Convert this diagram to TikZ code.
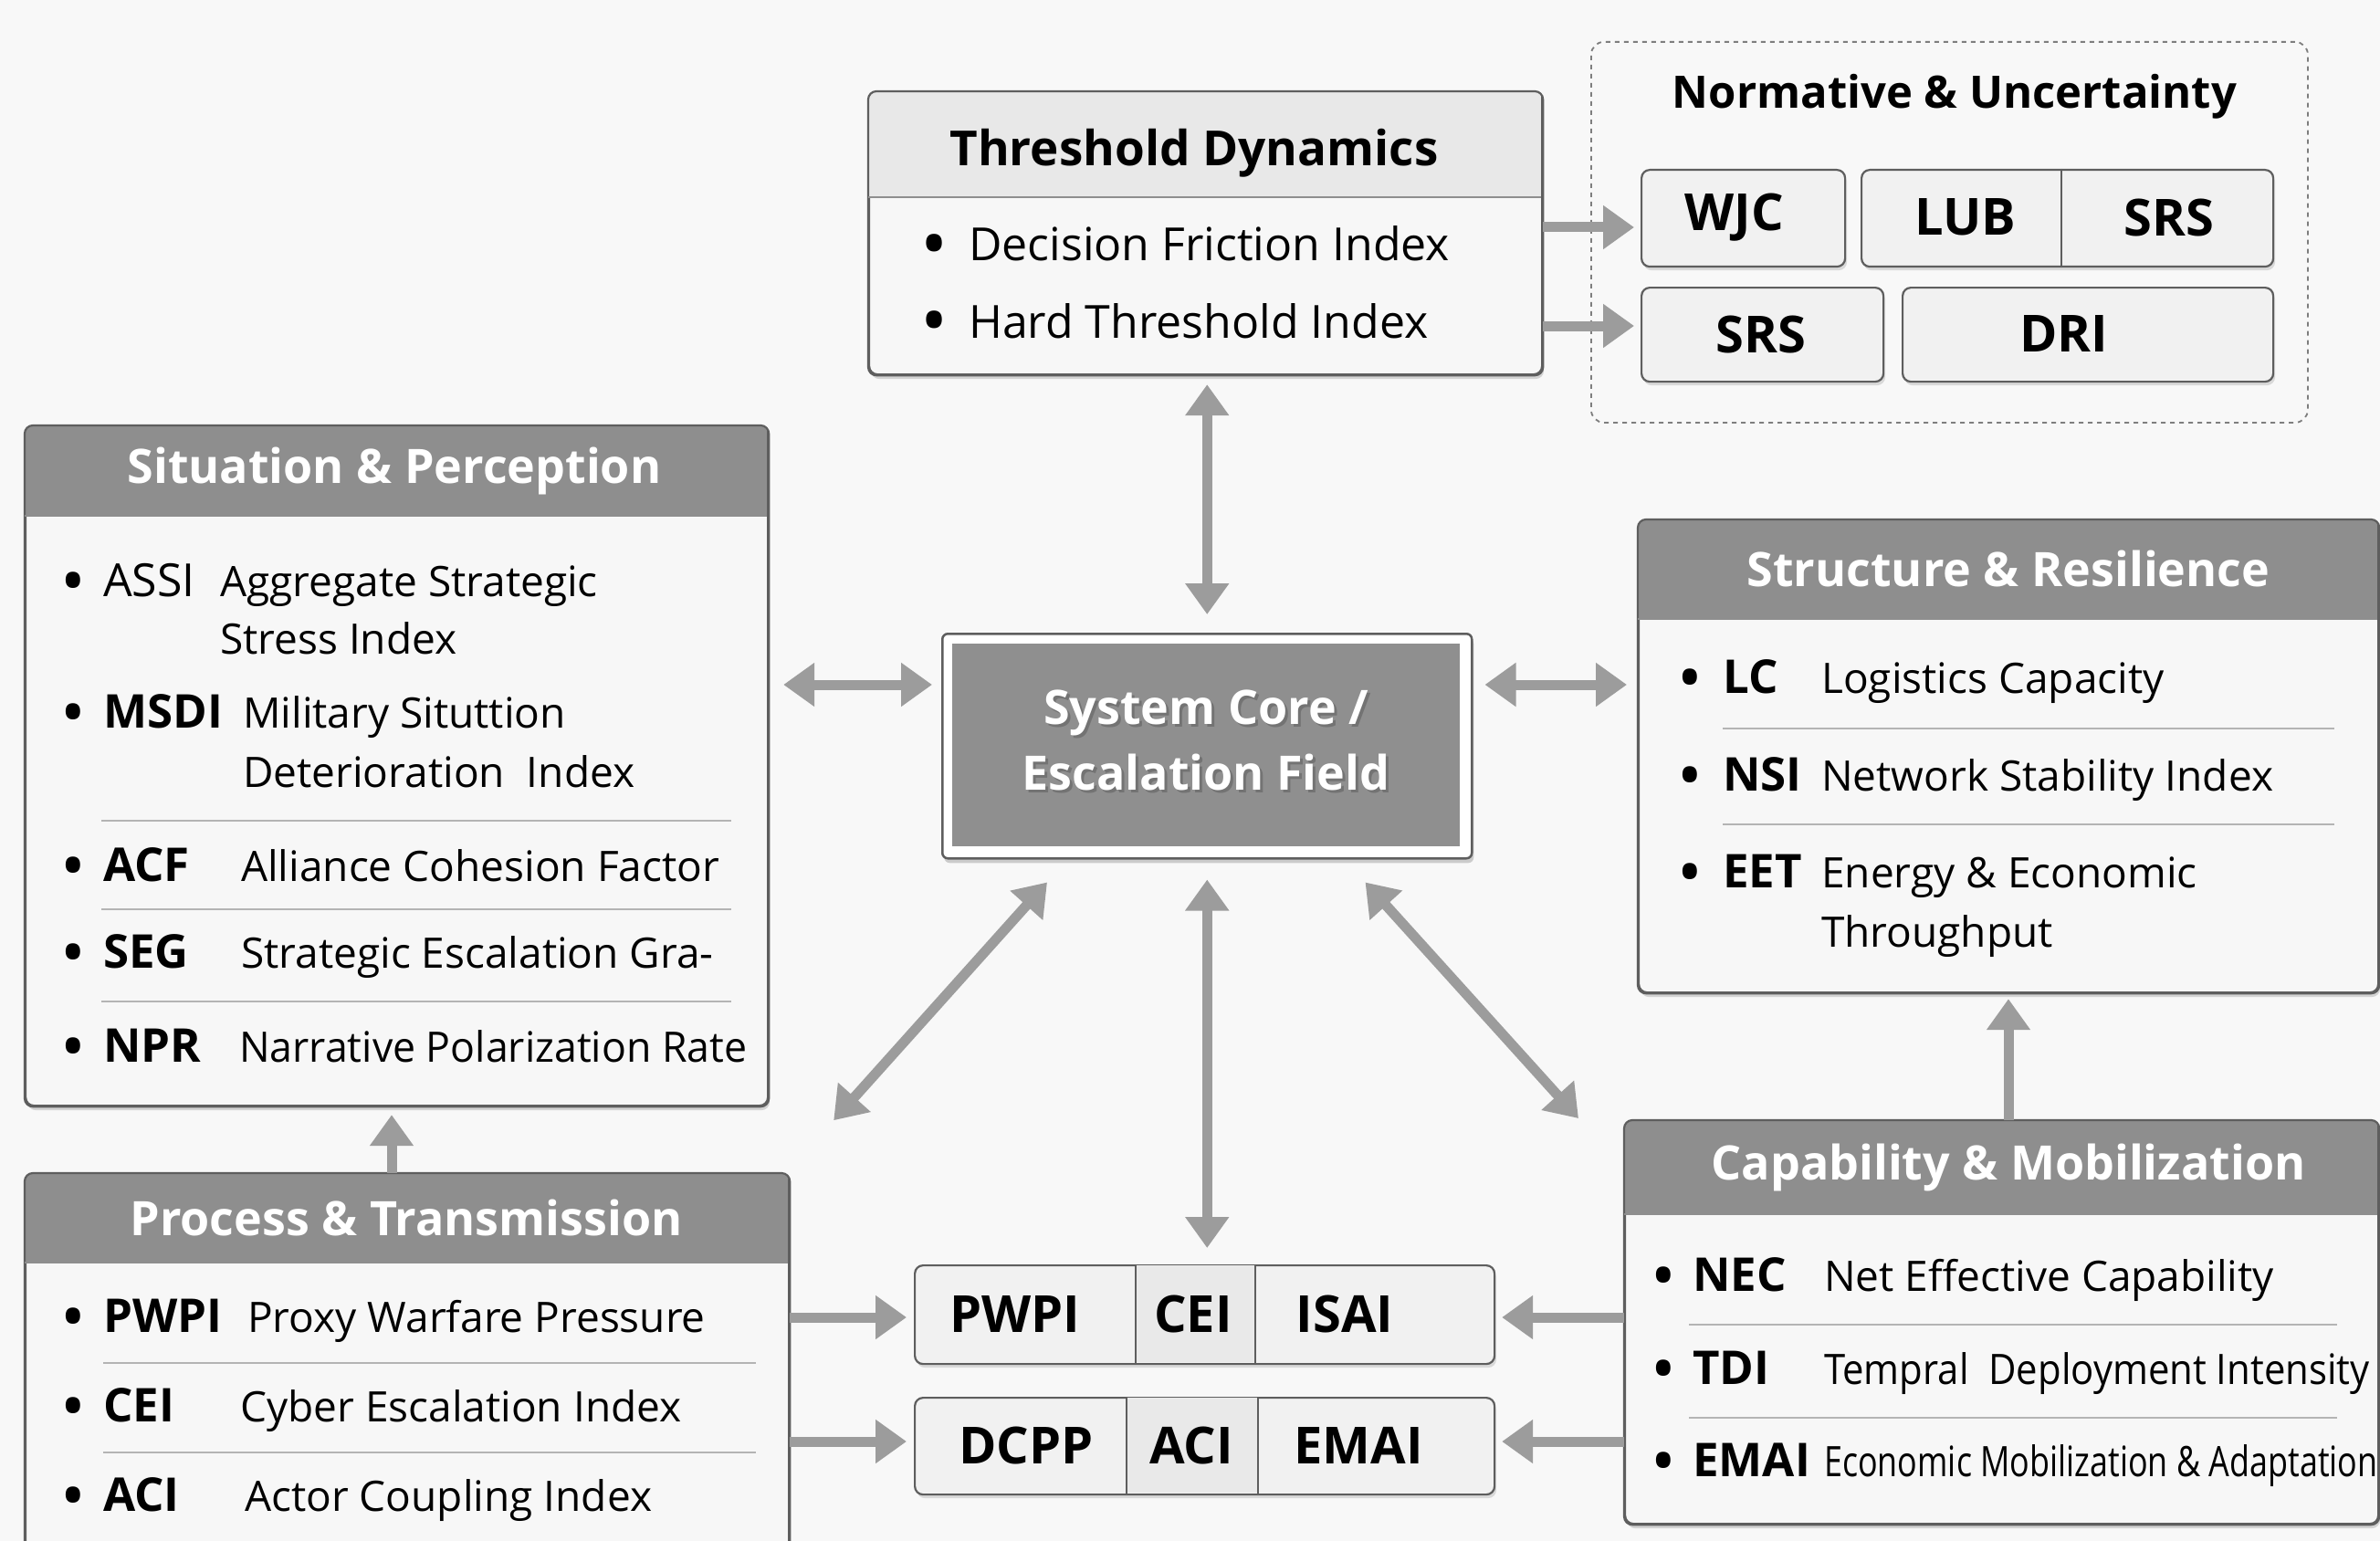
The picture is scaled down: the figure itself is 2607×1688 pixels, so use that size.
\documentclass[tikz,border=0pt]{standalone}
\usepackage{fontspec}
\setmainfont{Open Sans}
\usepackage{graphicx}
\usetikzlibrary{arrows.meta,shadows,calc}
\definecolor{bgc}{HTML}{F8F8F8}
\definecolor{hdrc}{HTML}{8E8E8E}
\definecolor{thdrc}{HTML}{E8E8E8}
\definecolor{bodyc}{HTML}{F7F7F7}
\definecolor{cellc}{HTML}{F1F1F1}
\definecolor{cellmid}{HTML}{E9E9E9}
\definecolor{boxline}{HTML}{5E5E5E}
\definecolor{arrc}{HTML}{9C9C9C}
\definecolor{sepc}{HTML}{B4B4B4}
\definecolor{corec}{HTML}{8F8F8F}
\newcommand\fdesc{\fontsize{46}{52}\selectfont}
\newcommand\fabbr{\fontsize{51}{56}\selectfont\bfseries}
\newcommand\fhdr{\fontsize{52}{58}\selectfont\bfseries}
\newcommand\flab{\fontsize{56}{60}\selectfont\bfseries}
\newcommand\bigbul{\raisebox{-0.2em}{\scalebox{1.6}{\textbullet}}}
\tikzset{
  panel/.style={draw=boxline, line width=2.2pt, fill=bodyc, rounded corners=9pt, inner sep=0pt, anchor=north west,
    drop shadow={shadow xshift=2pt, shadow yshift=-5pt, opacity=0.15, fill=black}},
  cellbox/.style={draw=boxline, line width=2.2pt, fill=cellc, rounded corners=9pt, inner sep=0pt, anchor=north west,
    drop shadow={shadow xshift=2pt, shadow yshift=-4pt, opacity=0.12, fill=black}},
  arrowtip/.tip={Triangle[length=34pt,width=46pt]},
  onearrow/.style={draw=arrc, line width=11pt, -arrowtip},
  twoarrow/.style={draw=arrc, line width=11pt, arrowtip-arrowtip},
  sepline/.style={draw=sepc, line width=2pt},
  hdrtext/.style={text=white, font=\fhdr, inner sep=0pt},
  bul/.style={anchor=base, font=\fdesc, inner sep=0pt},
  abbr/.style={anchor=base west, font=\fabbr, inner sep=0pt},
  abbrn/.style={anchor=base west, font=\fontsize{50}{56}\selectfont, inner sep=0pt},
  desc/.style={anchor=base west, font=\fdesc, inner sep=0pt},
  lab/.style={font=\flab, inner sep=0pt},
}
\newcommand\hdrband[4]{% node, x2, yh, colour
  \begin{scope}
    \clip[rounded corners=9pt] (#1.north west) rectangle (#1.south east);
    \fill[#4] (#1.north west) rectangle (#2,#3);
  \end{scope}
  \draw[boxline, line width=2.2pt, rounded corners=9pt] (#1.north west) rectangle (#1.south east);
  \draw[boxline!70, line width=1.2pt] (#1.north west |- 0,#3) -- (#2,#3);
}
\begin{document}
\begin{tikzpicture}[x=1pt,y=-1pt]
\fill[bgc] (0,0) rectangle (2607,1688);
\useasboundingbox (0,0) rectangle (2607,1688);
\clip (0,0) rectangle (2607,1688);

% ---------------- Threshold Dynamics
\node[panel, minimum width=737pt, minimum height=309pt] (thr) at (951,100) {};
\hdrband{thr}{1688}{216}{thdrc}
\node[font=\fontsize{53}{58}\selectfont\bfseries, inner sep=0pt] (thrT) at (1308,168) {Threshold Dynamics};
\node[bul, font=\fontsize{50}{56}\selectfont] (thrB1) at (1024,286) {\bigbul};
\node[desc, font=\fontsize{50}{56}\selectfont] (thrD1) at (1061,286) {Decision Friction Index};
\node[bul, font=\fontsize{50}{56}\selectfont] (thrB2) at (1024,370) {\bigbul};
\node[desc, font=\fontsize{50}{56}\selectfont] (thrD2) at (1061,370) {Hard Threshold Index};

% ---------------- Normative & Uncertainty
\node[draw=boxline!80, dashed, dash pattern=on 5pt off 5pt, line width=1.8pt, rounded corners=14pt, anchor=north west,
  minimum width=785pt, minimum height=417pt, inner sep=0pt] (nor) at (1742,45) {};
\node[font=\fontsize{49}{54}\selectfont\bfseries, inner sep=0pt] (norT) at (2141,106) {Normative \& Uncertainty};
\node[cellbox, minimum width=223pt, minimum height=106pt] (wjc) at (1797,185) {};
\node[cellbox, minimum width=451pt, minimum height=106pt] (lub) at (2038,185) {};
\draw[boxline, line width=2pt] (2258,185) -- (2258,291);
\node[cellbox, minimum width=265pt, minimum height=103pt] (srsb) at (1797,314) {};
\node[cellbox, minimum width=406pt, minimum height=103pt] (dri) at (2083,314) {};
\node[lab] (wjcT) at (1900,238) {WJC};
\node[lab] (lubT) at (2153,238) {LUB};
\node[lab] (srsT) at (2376,238) {SRS};
\node[lab] (srsbT) at (1929,366) {SRS};
\node[lab] (driT) at (2261,366) {DRI};

% ---------------- Situation & Perception
\node[panel, minimum width=813pt, minimum height=744pt] (sit) at (27,466) {};
\hdrband{sit}{840}{565}{hdrc}
\node[hdrtext] (sitT) at (432,516) {Situation \& Perception};
\node[bul] (s1b) at (80,653) {\bigbul};
\node[abbrn] (s1a) at (113,653) {ASSI};
\node[desc] (s1d) at (241,653) {Aggregate Strategic};
\node[desc] (s1e) at (241,716) {Stress Index};
\node[bul] (s2b) at (80,797) {\bigbul};
\node[abbr] (s2a) at (113,797) {MSDI};
\node[desc] (s2d) at (266,797) {Military Situttion};
\node[desc] (s2e) at (266,862) {Deterioration\ \ Index};
\draw[sepline] (111,899) -- (801,899);
\node[bul] (s3b) at (80,965) {\bigbul};
\node[abbr] (s3a) at (113,965) {ACF};
\node[desc] (s3d) at (264,965) {Alliance Cohesion Factor};
\draw[sepline] (111,996) -- (801,996);
\node[bul] (s4b) at (80,1060) {\bigbul};
\node[abbr] (s4a) at (113,1060) {SEG};
\node[desc] (s4d) at (264,1060) {Strategic Escalation Gra-};
\draw[sepline] (111,1097) -- (801,1097);
\node[bul] (s5b) at (80,1163) {\bigbul};
\node[abbr] (s5a) at (113,1163) {NPR};
\node[desc] (s5d) at (262,1163) {\scalebox{0.97}[1]{Narrative Polarization Rate}};

% ---------------- Structure & Resilience
\node[panel, minimum width=810pt, minimum height=517pt] (str) at (1794,569) {};
\hdrband{str}{2604}{678}{hdrc}
\node[hdrtext] (strT) at (2200,623) {Structure \& Resilience};
\node[bul] (r1b) at (1851,759) {\bigbul};
\node[abbr] (r1a) at (1887,759) {LC};
\node[desc] (r1d) at (1995,759) {Logistics Capacity};
\draw[sepline] (1887,798) -- (2557,798);
\node[bul] (r2b) at (1851,866) {\bigbul};
\node[abbr] (r2a) at (1887,866) {NSI};
\node[desc] (r2d) at (1995,866) {Network Stability Index};
\draw[sepline] (1887,903) -- (2557,903);
\node[bul] (r3b) at (1851,972) {\bigbul};
\node[abbr] (r3a) at (1887,972) {EET};
\node[desc] (r3d) at (1995,972) {Energy \& Economic};
\node[desc] (r3e) at (1995,1037) {Throughput};

% ---------------- System core
\node[draw=boxline, line width=2.5pt, fill=white, rounded corners=6pt, anchor=north west, inner sep=0pt,
  minimum width=580pt, minimum height=246pt,
  drop shadow={shadow xshift=2pt, shadow yshift=-5pt, opacity=0.18, fill=black}] (core) at (1031,693) {};
\fill[corec] (1043,705) rectangle (1599,927);
\node[text=black!55, font=\fhdr, inner sep=0pt, align=center] (coreS) at (1324,814) {System Core /\\[14pt]Escalation Field};
\node[text=white, font=\fhdr, inner sep=0pt, align=center] (coreT) at (1321,811) {System Core /\\[14pt]Escalation Field};

% ---------------- Capability & Mobilization
\node[panel, minimum width=825pt, minimum height=441pt] (cap) at (1779,1227) {};
\hdrband{cap}{2604}{1330}{hdrc}
\node[hdrtext] (capT) at (2200,1279) {Capability \& Mobilization};
\node[bul] (c1b) at (1822,1414) {\bigbul};
\node[abbr] (c1a) at (1854,1414) {NEC};
\node[desc] (c1d) at (1998,1414) {Net Effective Capability};
\draw[sepline] (1850,1451) -- (2560,1451);
\node[bul] (c2b) at (1822,1516) {\bigbul};
\node[abbr] (c2a) at (1854,1516) {TDI};
\node[desc] (c2d) at (1998,1516) {\scalebox{0.91}[1]{Tempral\ \ Deployment Intensity}};
\draw[sepline] (1850,1553) -- (2560,1553);
\node[bul] (c3b) at (1822,1617) {\bigbul};
\node[abbr] (c3a) at (1854,1617) {EMAI};
\node[desc] (c3d) at (1998,1617) {\scalebox{0.78}[1]{Economic Mobilization \& Adaptation}};

% ---------------- Process & Transmission
\node[panel, minimum width=836pt, minimum height=450pt] (proc) at (27,1285) {};
\hdrband{proc}{863}{1383}{hdrc}
\node[hdrtext] (procT) at (445,1334) {Process \& Transmission};
\node[bul] (p1b) at (80,1459) {\bigbul};
\node[abbr] (p1a) at (113,1459) {PWPI};
\node[desc] (p1d) at (271,1459) {Proxy Warfare Pressure};
\draw[sepline] (113,1493) -- (828,1493);
\node[bul] (p2b) at (80,1557) {\bigbul};
\node[abbr] (p2a) at (113,1557) {CEI};
\node[desc] (p2d) at (263,1557) {Cyber Escalation Index};
\draw[sepline] (113,1591) -- (828,1591);
\node[bul] (p3b) at (80,1655) {\bigbul};
\node[abbr] (p3a) at (113,1655) {ACI};
\node[desc] (p3d) at (268,1655) {Actor Coupling Index};

% ---------------- Bottom rows
\node[cellbox, minimum width=635pt, minimum height=108pt] (row1) at (1001,1385) {};
\fill[cellmid] (1244,1386) rectangle (1375,1492);
\draw[boxline, line width=2pt] (1244,1385) -- (1244,1493) (1375,1385) -- (1375,1493);
\node[lab] (row1a) at (1112,1439) {PWPI};
\node[lab] (row1b) at (1307,1439) {CEI};
\node[lab] (row1c) at (1473,1439) {ISAI};
\node[cellbox, minimum width=635pt, minimum height=106pt] (row2) at (1001,1530) {};
\fill[cellmid] (1234,1531) rectangle (1378,1635);
\draw[boxline, line width=2pt] (1234,1530) -- (1234,1636) (1378,1530) -- (1378,1636);
\node[lab] (row2a) at (1124,1583) {DCPP};
\node[lab] (row2b) at (1305,1583) {ACI};
\node[lab] (row2c) at (1488,1583) {EMAI};

% ---------------- Connectors
\coordinate (ySP) at (0,750);
\coordinate (xPS) at (429,0);
\coordinate (xCS) at (2200,0);
\coordinate (yN1) at (0,249);
\coordinate (yN2) at (0,357);
\coordinate (yR1) at (0,1443);
\coordinate (yR2) at (0,1579);
\draw[twoarrow, shorten <=10pt, shorten >=20pt] (thr.south -| core.north) -- (core.north);
\draw[twoarrow, shorten <=16pt, shorten >=10pt] (sit.east |- ySP) -- (core.west |- ySP);
\draw[twoarrow, shorten <=13pt, shorten >=12pt] (core.east |- ySP) -- (str.west |- ySP);
\draw[twoarrow, shorten <=22pt, shorten >=18pt] (core.south) -- (core.south |- row1.north);
\draw[twoarrow] ([xshift=116pt,yshift=-25pt]core.south west) -- ([xshift=71pt,yshift=-15pt]sit.south east);
\draw[twoarrow] ([xshift=-118pt,yshift=-25pt]core.south east) -- ([xshift=-50pt,yshift=2pt]cap.north west);
\draw[onearrow, shorten >=9pt] (xPS |- proc.north) -- (xPS |- sit.south);
\draw[onearrow, shorten >=6pt] (xCS |- cap.north) -- (xCS |- str.south);
\draw[onearrow, shorten >=7pt] (thr.east |- yN1) -- (wjc.west |- yN1);
\draw[onearrow, shorten >=7pt] (thr.east |- yN2) -- (srsb.west |- yN2);
\draw[onearrow, shorten >=8pt] (proc.east |- yR1) -- (row1.west |- yR1);
\draw[onearrow, shorten >=8pt] (proc.east |- yR2) -- (row2.west |- yR2);
\draw[onearrow, shorten >=7pt] (cap.west |- yR1) -- (row1.east |- yR1);
\draw[onearrow, shorten >=7pt] (cap.west |- yR2) -- (row2.east |- yR2);
\end{tikzpicture}
\end{document}
